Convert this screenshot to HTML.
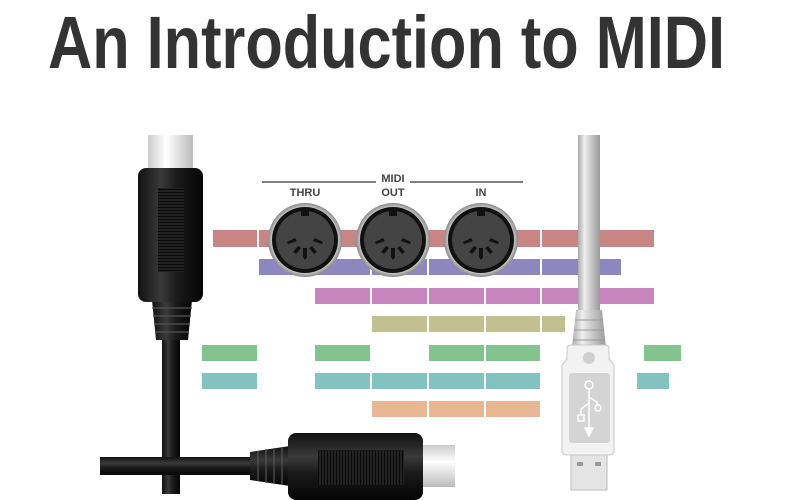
<!DOCTYPE html>
<html><head><meta charset="utf-8"><style>
html,body{margin:0;padding:0;background:#fff;width:800px;height:500px;overflow:hidden}
svg{display:block}
</style></head><body>
<svg width="800" height="500" viewBox="0 0 800 500" xmlns="http://www.w3.org/2000/svg">
<defs>
<linearGradient id="blk" x1="0" x2="1" y1="0" y2="0">
<stop offset="0" stop-color="#111"/><stop offset="0.35" stop-color="#3a3a3a"/><stop offset="0.6" stop-color="#1a1a1a"/><stop offset="1" stop-color="#050505"/></linearGradient>
<linearGradient id="blkv" x1="0" x2="0" y1="0" y2="1">
<stop offset="0" stop-color="#111"/><stop offset="0.35" stop-color="#3a3a3a"/><stop offset="0.6" stop-color="#1a1a1a"/><stop offset="1" stop-color="#050505"/></linearGradient>
<linearGradient id="wht" x1="0" x2="1"><stop offset="0" stop-color="#ccc"/><stop offset="0.4" stop-color="#fff"/><stop offset="1" stop-color="#bbb"/></linearGradient>
<linearGradient id="whtv" x1="0" x2="0" y1="0" y2="1"><stop offset="0" stop-color="#ccc"/><stop offset="0.4" stop-color="#fff"/><stop offset="1" stop-color="#bbb"/></linearGradient>
<linearGradient id="gry" x1="0" x2="1"><stop offset="0" stop-color="#aaa"/><stop offset="0.3" stop-color="#eee"/><stop offset="0.6" stop-color="#c8c8c8"/><stop offset="1" stop-color="#999"/></linearGradient>
<radialGradient id="ring" cx="0.5" cy="0.5" r="0.5"><stop offset="0.85" stop-color="#ddd"/><stop offset="1" stop-color="#888"/></radialGradient>
<pattern id="rib" width="4" height="3" patternUnits="userSpaceOnUse"><rect width="4" height="3" fill="#222"/><rect width="4" height="1" fill="#0a0a0a"/></pattern>
<pattern id="ribv" width="3" height="4" patternUnits="userSpaceOnUse"><rect width="3" height="4" fill="#222"/><rect width="1" height="4" fill="#0a0a0a"/></pattern>
</defs>
<text x="48" y="68" font-family="'Liberation Sans Narrow','Liberation Sans',sans-serif" font-weight="bold" font-size="74" fill="#333" textLength="677" lengthAdjust="spacingAndGlyphs">An Introduction to MIDI</text>

<g>
<g fill="#c98584">
<rect x="213" y="230" width="44" height="17"/><rect x="259" y="230" width="54" height="17"/><rect x="315" y="230" width="55" height="17"/><rect x="372" y="230" width="55" height="17"/><rect x="429" y="230" width="55" height="17"/><rect x="486" y="230" width="54" height="17"/><rect x="542" y="230" width="55" height="17"/><rect x="599" y="230" width="55" height="17"/></g>
<g fill="#8d87c0">
<rect x="259" y="259" width="54" height="16"/><rect x="315" y="259" width="55" height="16"/><rect x="372" y="259" width="55" height="16"/><rect x="429" y="259" width="55" height="16"/><rect x="486" y="259" width="54" height="16"/><rect x="542" y="259" width="79" height="16"/></g>
<g fill="#c885bd">
<rect x="315" y="288" width="55" height="16"/><rect x="372" y="288" width="55" height="16"/><rect x="429" y="288" width="55" height="16"/><rect x="486" y="288" width="54" height="16"/><rect x="542" y="288" width="112" height="16"/></g>
<g fill="#c1c18f">
<rect x="372" y="316" width="55" height="16"/><rect x="429" y="316" width="55" height="16"/><rect x="486" y="316" width="54" height="16"/><rect x="542" y="316" width="23" height="16"/></g>
<g fill="#83c48e">
<rect x="202" y="345" width="55" height="16"/><rect x="315" y="345" width="55" height="16"/><rect x="429" y="345" width="55" height="16"/><rect x="486" y="345" width="54" height="16"/><rect x="644" y="345" width="37" height="16"/></g>
<g fill="#82c2bf">
<rect x="202" y="373" width="55" height="16"/><rect x="315" y="373" width="55" height="16"/><rect x="372" y="373" width="55" height="16"/><rect x="429" y="373" width="55" height="16"/><rect x="486" y="373" width="54" height="16"/><rect x="637" y="373" width="32" height="16"/></g>
<g fill="#e8b895">
<rect x="372" y="401" width="55" height="16"/><rect x="429" y="401" width="55" height="16"/><rect x="486" y="401" width="54" height="16"/></g>
</g>

<line x1="262" y1="182" x2="523" y2="182" stroke="#333" stroke-width="1.3"/>
<rect x="376" y="172" width="34" height="12" fill="#fff"/>
<g font-family="'Liberation Sans',sans-serif" font-weight="bold" font-size="11" fill="#444" text-anchor="middle">
<text x="393" y="182">MIDI</text><text x="305" y="196">THRU</text><text x="393" y="196">OUT</text><text x="481" y="196">IN</text></g>

<g id="din">
<circle cx="305" cy="240" r="37" fill="url(#ring)"/>
<circle cx="305" cy="240" r="33" fill="#111"/>
<circle cx="305" cy="240" r="29" fill="#444"/>
<rect x="301" y="211" width="8" height="5" fill="#111"/>
<g fill="#111">
<path d="M287 242 l8 -4 l2 3 l-9 3z"/><path d="M323 242 l-8 -4 l-2 3 l9 3z"/>
<path d="M293 252 l5 -6 l3 2 l-5 6z"/><path d="M317 252 l-5 -6 l-3 2 l5 6z"/>
<path d="M303 248 h4 v9 l-2 3 l-2 -3z"/></g>
</g>
<use href="#din" x="88"/><use href="#din" x="176"/>

<rect x="162" y="330" width="18" height="164" fill="url(#blk)"/>
<rect x="148" y="135" width="45" height="35" fill="url(#wht)"/>
<path d="M152 300 h40 l-4 40 h-32z" fill="url(#blk)"/>
<g stroke="#555" stroke-width="1.2"><line x1="152" y1="308" x2="192" y2="308"/><line x1="153" y1="316" x2="191" y2="316"/><line x1="154" y1="324" x2="190" y2="324"/><line x1="155" y1="332" x2="189" y2="332"/></g>
<rect x="138" y="168" width="65" height="134" rx="8" fill="url(#blk)"/>
<rect x="158" y="188" width="26" height="84" fill="url(#rib)"/>

<rect x="100" y="457" width="160" height="18" fill="url(#blkv)"/>
<path d="M290 446 v40 l-40 -6 v-28z" fill="url(#blkv)"/>
<g stroke="#555" stroke-width="1.2"><line x1="258" y1="451" x2="258" y2="481"/><line x1="266" y1="449" x2="266" y2="483"/><line x1="274" y1="448" x2="274" y2="484"/><line x1="282" y1="447" x2="282" y2="485"/></g>
<rect x="418" y="445" width="37" height="42" fill="url(#whtv)"/>
<rect x="288" y="433" width="135" height="67" rx="8" fill="url(#blkv)"/>
<rect x="318" y="450" width="86" height="35" fill="url(#ribv)"/>

<rect x="578" y="135" width="22" height="180" fill="url(#gry)"/>
<path d="M576 310 h26 l4 38 h-34z" fill="url(#gry)"/>
<g stroke="#999"><line x1="575" y1="320" x2="603" y2="320"/><line x1="574" y1="330" x2="604" y2="330"/><line x1="573" y1="340" x2="605" y2="340"/></g>
<rect x="571" y="452" width="36" height="38" fill="#e4e4e4" stroke="#bbb"/>
<rect x="577" y="462" width="6" height="4" fill="#999"/><rect x="595" y="462" width="6" height="4" fill="#999"/>
<path d="M573 345 h32 q4 0 4 4 v10 l5 6 v85 q0 5 -5 5 h-42 q-5 0 -5 -5 v-85 l5 -6 v-10 q0 -4 4 -4z" fill="#f2f2f2" stroke="#c8c8c8"/>
<circle cx="589" cy="358" r="6" fill="#d0d0d0"/>
<rect x="569" y="373" width="41" height="70" rx="3" fill="#d4d4d4"/>
<g stroke="#fff" fill="none" stroke-width="1.5">
<circle cx="589" cy="385" r="4"/><line x1="589" y1="389" x2="589" y2="430"/>
<path d="M589 403 l-8 6 v6"/><rect x="578" y="415" width="6" height="6"/>
<path d="M589 397 l8 5 v3"/><circle cx="598" cy="408" r="3"/>
<path d="M585 428 h8 l-4 8z" fill="#fff"/></g>
</svg>
</body></html>
